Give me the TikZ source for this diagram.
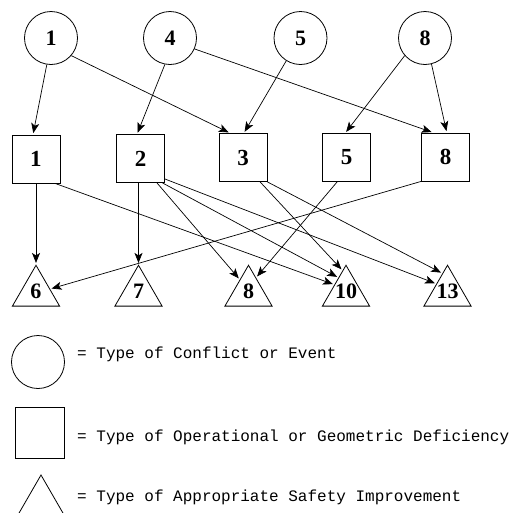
\documentclass[tikz,border=0pt]{standalone}
\usepackage{fontspec}
\setmainfont{Liberation Serif}
\newfontfamily\legfont{Liberation Mono}
\usetikzlibrary{shapes.geometric,arrows.meta}
\begin{document}
\begin{tikzpicture}[x=1pt,y=-1pt,
  conf/.style={draw,circle,line width=0.8pt,minimum size=53pt,inner sep=0pt,font=\fontsize{22}{22}\selectfont\bfseries},
  defi/.style={draw,rectangle,line width=0.8pt,minimum width=48pt,minimum height=48pt,inner sep=0pt,font=\fontsize{23}{23}\selectfont\bfseries},
  impr/.style={draw,regular polygon,regular polygon sides=3,line width=0.8pt,minimum size=54.5pt,inner sep=0pt},
  num/.style={inner sep=0pt,font=\fontsize{22}{22}\selectfont\bfseries},
  leg/.style={anchor=base west,inner sep=0pt,font=\legfont\fontsize{16}{16}\selectfont},
  arr/.style={-{Stealth[length=10pt,width=8pt,inset=2.5pt]},line width=0.7pt,shorten >=1.5pt}]
\useasboundingbox (0,0) rectangle (520,512);
\clip (0,0) rectangle (520,512);
% conflicts
\node[conf] (c1) at (51,38) {1};
\node[conf] (c4) at (170,38) {4};
\node[conf] (c5) at (300.5,38) {5};
\node[conf] (c8) at (425,38) {8};
% deficiencies
\node[defi] (s1) at (36,159) {1};
\node[defi] (s2) at (140.5,158.5) {2};
\node[defi] (s3) at (243,157.5) {3};
\node[defi] (s5) at (346.5,157.5) {5};
\node[defi] (s8) at (445.5,157) {8};
% improvements
\node[impr] (t6) at (36,292.5) {};
\node[impr] (t7) at (138.5,292.5) {};
\node[impr] (t8) at (248.5,292.5) {};
\node[impr] (t10) at (346,292.5) {};
\node[impr] (t13) at (447.5,292.5) {};
\node[num] (n6) at ([yshift=1pt]t6.center) {6};
\node[num] (n7) at ([yshift=1pt]t7.center) {7};
\node[num] (n8) at ([yshift=1pt]t8.center) {8};
\node[num] (n10) at ([yshift=1pt]t10.center) {10};
\node[num] (n13) at ([yshift=1pt]t13.center) {13};
% circles -> squares
\draw[arr] (c1.261) -- (s1.97);
\draw[arr] (c1.319) -- (s3.118);
\draw[arr] (c4.259) -- (s2.98);
\draw[arr] (c4.336) -- (s8.117);
\draw[arr] (c5.238) -- (s3.88);
\draw[arr] (c8.221) -- (s5.93);
\draw[arr] (c8.284) -- (s8.87);
% squares -> triangles
\draw[arr] (t6.corner 1 |- s1.south) -- (t6.corner 1);
\draw[arr] (s1.308) -- (t10.146);
\draw[arr] (t7.corner 1 |- s2.south) -- (t7.corner 1);
\draw[arr] (s2.304) -- (t8.124);
\draw[arr] (s2.312) -- (t10.117);
\draw[arr] (s2.320) -- (t13.142);
\draw[arr] (s3.305) -- (t10.99);
\draw[arr] (s3.315) -- (t13.105);
\draw[arr] (s5.249) -- (t8.63);
\draw[arr] (s8.225) -- (t6.14);
% legend
\node[conf] (lc) at (38,362) {};
\node[defi,minimum width=49pt,minimum height=51pt] (ls) at (39.5,432.5) {};
\node[impr,minimum size=60pt] (lt) at (41,505) {};
\node[leg] (l1) at (77,358) {= Type of Conflict or Event};
\node[leg] (l2) at (77,441) {= Type of Operational or Geometric Deficiency};
\node[leg] (l3) at (77,501) {= Type of Appropriate Safety Improvement};
\end{tikzpicture}
\end{document}
